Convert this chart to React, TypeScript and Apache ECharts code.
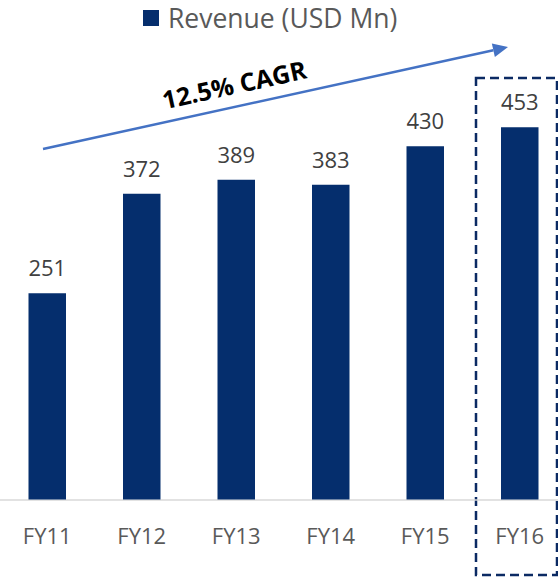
import React, { useEffect, useRef } from "react";
import * as echarts from "echarts";

const categories = ["FY11", "FY12", "FY13", "FY14", "FY15", "FY16"];
const revenue = [251, 372, 389, 383, 430, 453];
const seriesName = "Revenue (USD Mn)";
const cagrLabel = "12.5% CAGR";

const BAR = "#052E6D";
const FONT = "'Open Sans', 'Noto Sans', sans-serif";

export default function App() {
  const ref = useRef<HTMLDivElement>(null);
  useEffect(() => {
    if (!ref.current) return;
    const chart = echarts.init(ref.current, null, { renderer: "svg" });
    // arrow geometry
    const x0 = 43, y0 = 149, x1 = 508, y1 = 47;
    const dx = x1 - x0, dy = y1 - y0;
    const len = Math.sqrt(dx * dx + dy * dy);
    const ux = dx / len, uy = dy / len;
    const hl = 15, hw = 7;
    const bx = x1 - hl * ux, by = y1 - hl * uy;
    const nx = -uy, ny = ux;
    const angle = Math.atan2(-dy, dx);
    chart.setOption({
      animation: false,
      textStyle: { fontFamily: FONT },
      legend: {
        left: 143,
        top: 2,
        padding: 0,
        itemWidth: 16,
        itemHeight: 16,
        icon: "rect",
        textStyle: {
          fontSize: 26.5,
          lineHeight: 32,
          color: "#595959",
          fontFamily: FONT,
          padding: [0, 0, 0, 4],
        },
        data: [seriesName],
      },
      grid: { left: 0, right: 0, top: 88.6, bottom: 78.5, containLabel: false },
      xAxis: {
        type: "category",
        data: categories,
        axisLine: { lineStyle: { color: "#D9D9D9", width: 1.5 } },
        axisTick: { show: false },
        axisLabel: {
          color: "#595959",
          fontSize: 22,
          lineHeight: 22,
          margin: 24,
          fontFamily: FONT,
        },
      },
      yAxis: {
        type: "value",
        min: 0,
        max: 500,
        show: false,
        splitLine: { show: false },
      },
      series: [
        {
          name: seriesName,
          type: "bar",
          data: revenue,
          barWidth: 37.5,
          itemStyle: { color: BAR },
          label: {
            show: true,
            position: "top",
            distance: 15,
            color: "#404040",
            fontSize: 22,
            lineHeight: 22,
            fontFamily: FONT,
          },
        },
      ],
      graphic: [
        {
          type: "line",
          shape: { x1: x0, y1: y0, x2: bx, y2: by },
          style: { stroke: "#4472C4", lineWidth: 2.5 },
        },
        {
          type: "polygon",
          shape: {
            points: [
              [x1, y1],
              [bx + hw * nx, by + hw * ny],
              [bx - hw * nx, by - hw * ny],
            ],
          },
          style: { fill: "#4472C4" },
        },
        {
          type: "text",
          x: 234,
          y: 84,
          rotation: angle,
          style: {
            text: cagrLabel,
            fontSize: 25,
            fontWeight: "bold",
            fontFamily: FONT,
            fill: "#000000",
            align: "center",
            verticalAlign: "middle",
          },
        },
        {
          type: "rect",
          shape: { x: 476, y: 78, width: 81, height: 497 },
          style: {
            fill: "none",
            stroke: "#0B2A63",
            lineWidth: 2.5,
            lineDash: [9, 5],
          },
        },
      ],
    });
    return () => chart.dispose();
  }, []);
  return (
    <div
      style={{
        position: "absolute",
        left: 0,
        top: 0,
        width: 558,
        height: 578,
        overflow: "hidden",
        background: "#fff",
      }}
    >
      <div ref={ref} style={{ width: 567, height: 578 }} />
    </div>
  );
}
